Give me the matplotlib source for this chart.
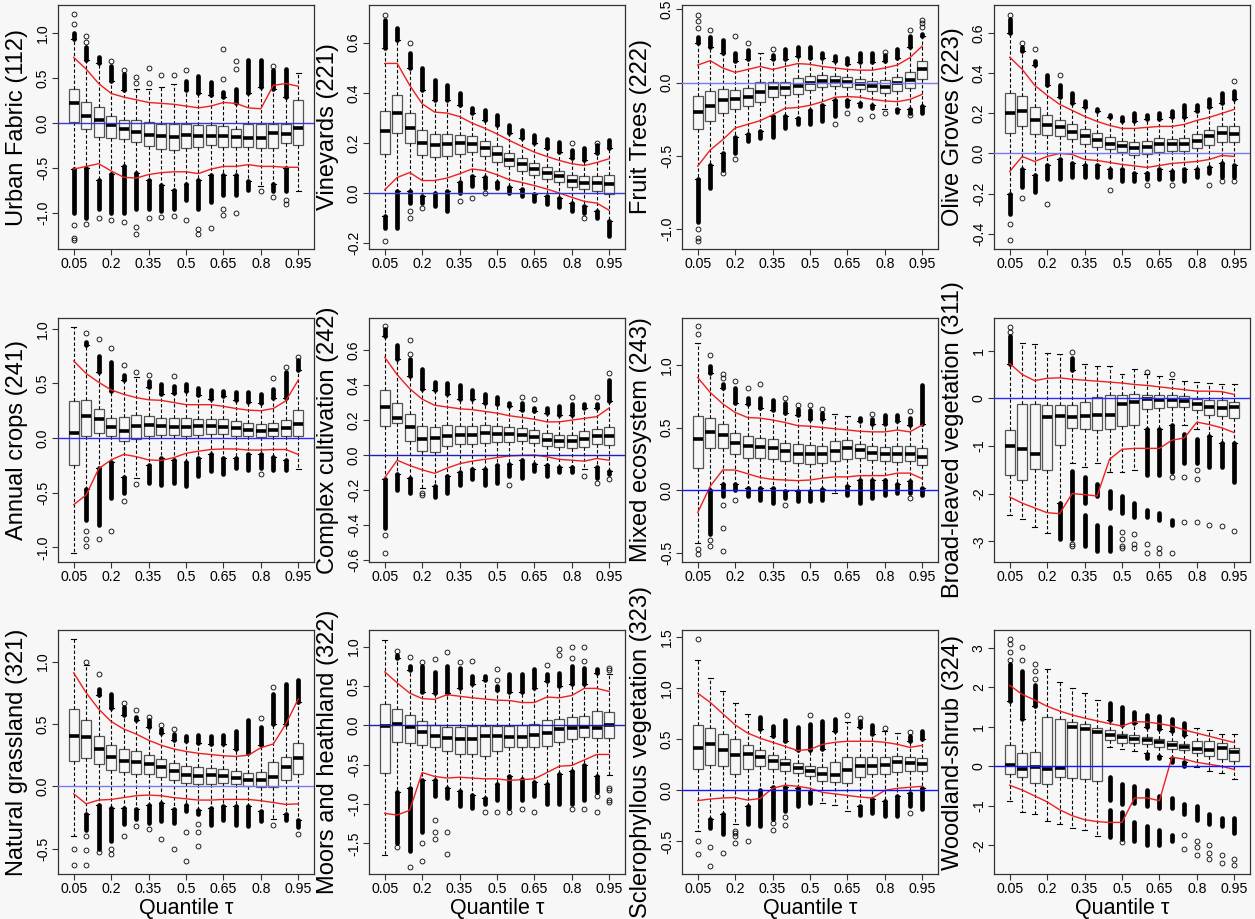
import matplotlib
matplotlib.use("Agg")
import matplotlib.pyplot as plt

plt.rcParams["font.family"] = ["Liberation Sans", "DejaVu Sans"]

BG = "#f7f7f7"

TAU = [0.05, 0.10, 0.15, 0.20, 0.25, 0.30, 0.35, 0.40, 0.45, 0.50,
       0.55, 0.60, 0.65, 0.70, 0.75, 0.80, 0.85, 0.90, 0.95]
TAU_SHOWN = ["0.05", "0.2", "0.35", "0.5", "0.65", "0.8", "0.95"]

# box rows: (lower whisker, q1, median, q3, upper whisker), one per tau
# bands: (box, lo, hi) = dense runs of outliers; pts: (box, [single outliers])

URBAN_BOX = [(-0.51, 0.01, 0.22, 0.38, 0.93), (-0.50, -0.06, 0.08, 0.23, 0.70),
             (-0.63, -0.15, 0.03, 0.18, 0.67), (-0.56, -0.17, -0.02, 0.08, 0.47),
             (-0.48, -0.18, -0.07, 0.04, 0.37), (-0.55, -0.21, -0.10, 0.03, 0.38),
             (-0.63, -0.25, -0.13, 0.01, 0.38), (-0.69, -0.29, -0.14, -0.01, 0.40),
             (-0.74, -0.30, -0.15, -0.01, 0.43), (-0.68, -0.28, -0.13, -0.01, 0.37),
             (-0.63, -0.26, -0.14, -0.02, 0.34), (-0.57, -0.24, -0.14, -0.02, 0.31),
             (-0.58, -0.26, -0.14, -0.03, 0.29), (-0.57, -0.26, -0.15, -0.06, 0.22),
             (-0.64, -0.26, -0.17, -0.01, 0.33), (-0.70, -0.28, -0.16, -0.01, 0.40),
             (-0.68, -0.28, -0.11, -0.01, 0.38), (-0.50, -0.22, -0.12, -0.01, 0.29),
             (-0.75, -0.24, -0.05, 0.26, 0.56)]
URBAN_BANDS = [(1, 0.93, 1.0), (2, 0.70, 0.85), (3, 0.67, 0.73), (4, 0.47, 0.63),
               (5, 0.37, 0.55), (10, 0.37, 0.47), (11, 0.34, 0.52), (12, 0.31, 0.46),
               (13, 0.29, 0.35), (14, 0.22, 0.38), (15, 0.33, 0.70), (16, 0.40, 0.70),
               (17, 0.38, 0.59), (18, 0.29, 0.60),
               (1, -1.0, -0.51), (2, -1.05, -0.50), (3, -0.95, -0.63), (4, -1.0, -0.56),
               (5, -1.0, -0.48), (6, -0.95, -0.55), (7, -0.95, -0.63), (8, -0.98, -0.69),
               (9, -0.95, -0.74), (10, -0.85, -0.68), (11, -0.95, -0.63), (12, -0.88, -0.57),
               (13, -0.80, -0.58), (14, -0.80, -0.57), (15, -0.74, -0.64), (17, -0.75, -0.68),
               (18, -0.75, -0.50)]
URBAN_PTS = [(1, [1.21, 1.10, -1.13, -1.27, -1.30]), (2, [0.90, 0.97, -1.12]), (3, [-1.05]),
             (4, [0.69, -1.07]), (5, [0.59, -1.10]), (6, [0.45, 0.51, -1.15, -1.23]),
             (7, [0.45, 0.61, -1.05]), (8, [0.53, -1.04]), (9, [0.54, -1.03]),
             (10, [0.59, -1.07]), (11, [-1.17, -1.23]), (12, [-1.16]),
             (13, [0.49, 0.82, -0.95, -1.02]), (14, [0.60, 0.69, -1.0]), (16, [-0.75]),
             (17, [0.64, -0.82]), (18, [-0.85, -0.90])]
URBAN_RED_HI = [0.73, 0.60, 0.44, 0.33, 0.29, 0.26, 0.23, 0.22, 0.21, 0.19,
                0.17, 0.19, 0.23, 0.22, 0.17, 0.16, 0.42, 0.44, 0.41]
URBAN_RED_LO = [-0.51, -0.48, -0.45, -0.53, -0.60, -0.61, -0.57, -0.55, -0.54, -0.54,
                -0.56, -0.51, -0.48, -0.48, -0.46, -0.48, -0.48, -0.49, -0.49]

VINE_BOX = [(-0.09, 0.157, 0.246, 0.328, 0.58), (0.01, 0.24, 0.32, 0.39, 0.61),
            (0.01, 0.20, 0.26, 0.32, 0.50), (-0.01, 0.15, 0.20, 0.25, 0.41),
            (0.0, 0.143, 0.19, 0.235, 0.37), (0.01, 0.149, 0.195, 0.235, 0.37),
            (0.045, 0.157, 0.198, 0.232, 0.35), (0.07, 0.163, 0.195, 0.226, 0.32),
            (0.065, 0.149, 0.178, 0.206, 0.29), (0.045, 0.124, 0.157, 0.186, 0.27),
            (0.025, 0.106, 0.133, 0.159, 0.24), (0.015, 0.09, 0.115, 0.139, 0.22),
            (-0.005, 0.073, 0.097, 0.12, 0.20), (-0.01, 0.057, 0.082, 0.104, 0.18),
            (-0.02, 0.044, 0.069, 0.09, 0.165), (-0.04, 0.024, 0.049, 0.074, 0.14),
            (-0.05, 0.017, 0.042, 0.07, 0.13), (-0.07, 0.01, 0.042, 0.07, 0.16),
            (-0.11, -0.003, 0.037, 0.073, 0.18)]
VINE_BANDS = [(1, 0.58, 0.69), (2, 0.61, 0.66), (3, 0.50, 0.56), (4, 0.41, 0.50),
              (5, 0.37, 0.45), (6, 0.37, 0.43), (7, 0.35, 0.40), (8, 0.32, 0.34),
              (9, 0.29, 0.33), (10, 0.27, 0.31), (11, 0.24, 0.27), (12, 0.22, 0.25),
              (13, 0.20, 0.23), (14, 0.18, 0.215), (15, 0.165, 0.205), (16, 0.14, 0.17),
              (17, 0.13, 0.18), (18, 0.16, 0.19), (19, 0.18, 0.21),
              (1, -0.14, -0.09), (2, -0.14, 0.01), (3, -0.04, 0.01), (4, -0.04, -0.01),
              (5, -0.05, 0.0), (6, -0.07, 0.01), (7, 0.0, 0.045), (8, 0.03, 0.07),
              (9, 0.02, 0.065), (10, 0.02, 0.045), (11, 0.0, 0.025), (12, -0.01, 0.015),
              (13, -0.03, -0.005), (14, -0.045, -0.01), (15, -0.055, -0.02),
              (16, -0.07, -0.04), (17, -0.08, -0.05), (18, -0.10, -0.07), (19, -0.17, -0.11)]
VINE_PTS = [(1, [0.71, -0.19]), (3, [0.60, -0.07, -0.10]), (4, [-0.06]), (7, [-0.03]),
            (8, [-0.02]), (9, [0.0]), (16, [0.20]), (17, [-0.10]), (18, [0.20])]
VINE_RED_HI = [0.517, 0.517, 0.43, 0.356, 0.323, 0.319, 0.305, 0.279, 0.259, 0.236,
               0.21, 0.186, 0.163, 0.146, 0.13, 0.117, 0.11, 0.122, 0.137]
VINE_RED_LO = [0.013, 0.062, 0.082, 0.05, 0.05, 0.06, 0.077, 0.096, 0.09, 0.073,
               0.053, 0.042, 0.03, 0.016, 0.0, -0.017, -0.033, -0.04, -0.069]

FRUIT_BOX = [(-0.66, -0.32, -0.20, -0.09, 0.27), (-0.56, -0.26, -0.16, -0.06, 0.24),
             (-0.48, -0.21, -0.12, -0.045, 0.20), (-0.37, -0.18, -0.115, -0.05, 0.15),
             (-0.35, -0.16, -0.10, -0.035, 0.16), (-0.33, -0.135, -0.065, 0.005, 0.20),
             (-0.23, -0.095, -0.04, 0.005, 0.16), (-0.23, -0.085, -0.04, 0.005, 0.16),
             (-0.24, -0.08, -0.02, 0.03, 0.18), (-0.19, -0.05, 0.0, 0.045, 0.17),
             (-0.15, -0.03, 0.014, 0.05, 0.17), (-0.12, -0.02, 0.014, 0.045, 0.15),
             (-0.12, -0.03, 0.002, 0.035, 0.13), (-0.14, -0.045, -0.011, 0.023, 0.14),
             (-0.15, -0.055, -0.023, 0.01, 0.14), (-0.18, -0.07, -0.027, 0.016, 0.15),
             (-0.18, -0.055, -0.005, 0.035, 0.17), (-0.18, -0.035, 0.02, 0.07, 0.24),
             (-0.16, 0.025, 0.093, 0.15, 0.32)]
FRUIT_BANDS = [(1, 0.27, 0.31), (2, 0.24, 0.31), (3, 0.20, 0.29), (4, 0.15, 0.20),
               (5, 0.16, 0.22), (7, 0.16, 0.19), (8, 0.16, 0.23), (9, 0.18, 0.24),
               (10, 0.17, 0.24), (11, 0.17, 0.20), (12, 0.15, 0.18), (13, 0.13, 0.17),
               (14, 0.14, 0.20), (15, 0.14, 0.20), (16, 0.15, 0.19), (17, 0.17, 0.23),
               (18, 0.24, 0.32), (19, 0.32, 0.33),
               (1, -0.95, -0.66), (2, -0.72, -0.56), (3, -0.60, -0.48), (4, -0.48, -0.37),
               (5, -0.40, -0.35), (6, -0.38, -0.33), (7, -0.37, -0.23), (8, -0.31, -0.23),
               (9, -0.28, -0.24), (10, -0.28, -0.19), (11, -0.26, -0.15), (12, -0.23, -0.12),
               (13, -0.16, -0.12), (14, -0.16, -0.14), (15, -0.17, -0.15), (17, -0.20, -0.18),
               (18, -0.21, -0.18), (19, -0.21, -0.16)]
FRUIT_PTS = [(1, [0.37, 0.42, 0.46, -1.0, -1.06, -1.08]), (2, [0.36]), (3, [-0.62]),
             (4, [0.32, -0.52]), (5, [0.27]), (7, [0.23]), (12, [-0.28]), (13, [-0.21]),
             (14, [-0.25]), (15, [-0.23]), (16, [0.21, -0.21]), (18, [0.36, -0.22]),
             (19, [0.38, 0.41, 0.43])]
FRUIT_RED_HI = [0.12, 0.15, 0.10, 0.07, 0.09, 0.11, 0.09, 0.11, 0.13, 0.125,
                0.11, 0.10, 0.09, 0.085, 0.085, 0.10, 0.12, 0.17, 0.25]
FRUIT_RED_LO = [-0.57, -0.46, -0.39, -0.31, -0.285, -0.26, -0.22, -0.175, -0.17, -0.155,
                -0.13, -0.10, -0.095, -0.10, -0.115, -0.125, -0.13, -0.115, -0.08]

OLIVE_BOX = [(-0.20, 0.101, 0.204, 0.304, 0.60), (-0.08, 0.138, 0.213, 0.286, 0.51),
             (-0.11, 0.096, 0.165, 0.234, 0.44), (-0.06, 0.09, 0.141, 0.191, 0.34),
             (-0.03, 0.085, 0.13, 0.166, 0.28), (-0.05, 0.07, 0.108, 0.145, 0.25),
             (-0.06, 0.047, 0.085, 0.121, 0.23), (-0.06, 0.033, 0.068, 0.101, 0.21),
             (-0.08, 0.02, 0.048, 0.08, 0.18), (-0.08, 0.005, 0.035, 0.06, 0.16),
             (-0.10, -0.008, 0.025, 0.055, 0.16), (-0.10, -0.002, 0.032, 0.063, 0.17),
             (-0.08, 0.008, 0.045, 0.075, 0.17), (-0.09, 0.012, 0.045, 0.071, 0.18),
             (-0.08, 0.012, 0.045, 0.076, 0.18), (-0.08, 0.028, 0.061, 0.096, 0.21),
             (-0.07, 0.042, 0.085, 0.118, 0.23), (-0.05, 0.058, 0.101, 0.136, 0.25),
             (-0.06, 0.055, 0.095, 0.136, 0.27)]
OLIVE_BANDS = [(1, 0.60, 0.67), (2, 0.51, 0.53), (3, 0.44, 0.46), (4, 0.34, 0.39),
               (5, 0.28, 0.34), (6, 0.25, 0.30), (7, 0.23, 0.26), (8, 0.21, 0.22),
               (9, 0.18, 0.19), (10, 0.16, 0.18), (11, 0.16, 0.20), (12, 0.17, 0.19),
               (13, 0.17, 0.20), (14, 0.18, 0.21), (15, 0.18, 0.24), (16, 0.21, 0.24),
               (17, 0.23, 0.27), (18, 0.25, 0.30), (19, 0.27, 0.31),
               (1, -0.30, -0.20), (2, -0.17, -0.08), (3, -0.19, -0.11), (4, -0.13, -0.06),
               (5, -0.13, -0.03), (6, -0.12, -0.05), (7, -0.12, -0.06), (8, -0.12, -0.06),
               (9, -0.12, -0.08), (10, -0.14, -0.08), (11, -0.14, -0.10), (12, -0.13, -0.10),
               (13, -0.13, -0.08), (14, -0.13, -0.09), (15, -0.14, -0.08), (16, -0.12, -0.08),
               (17, -0.10, -0.07), (18, -0.12, -0.05), (19, -0.12, -0.06)]
OLIVE_PTS = [(1, [0.69, -0.35, -0.43]), (2, [0.55, -0.22]), (3, [0.52]), (4, [-0.25]),
             (5, [0.39]), (9, [-0.18]), (12, [-0.16]), (14, [-0.16]), (17, [-0.16]),
             (18, [-0.14]), (19, [0.36, -0.14])]
OLIVE_RED_HI = [0.48, 0.42, 0.34, 0.29, 0.245, 0.215, 0.185, 0.16, 0.14, 0.125,
                0.125, 0.13, 0.135, 0.135, 0.145, 0.165, 0.18, 0.20, 0.22]
OLIVE_RED_LO = [-0.09, -0.015, -0.04, -0.015, 0.0, -0.005, -0.03, -0.035, -0.045, -0.055,
                -0.062, -0.07, -0.06, -0.05, -0.045, -0.04, -0.03, -0.01, -0.015]

ANNUAL_BOX = [(-1.05, -0.25, 0.043, 0.34, 1.02), (-0.47, 0.015, 0.20, 0.35, 0.85),
              (-0.27, 0.05, 0.175, 0.27, 0.60), (-0.22, 0.015, 0.10, 0.18, 0.43),
              (-0.36, -0.03, 0.064, 0.19, 0.53), (-0.37, -0.012, 0.113, 0.21, 0.56),
              (-0.25, 0.02, 0.122, 0.20, 0.47), (-0.18, 0.03, 0.11, 0.185, 0.40),
              (-0.20, 0.025, 0.10, 0.185, 0.41), (-0.22, 0.02, 0.10, 0.18, 0.43),
              (-0.18, 0.028, 0.11, 0.175, 0.39), (-0.15, 0.037, 0.107, 0.17, 0.36),
              (-0.18, 0.034, 0.10, 0.174, 0.38), (-0.18, 0.021, 0.091, 0.159, 0.35),
              (-0.15, 0.015, 0.076, 0.137, 0.33), (-0.15, 0.009, 0.067, 0.128, 0.32),
              (-0.17, 0.015, 0.076, 0.137, 0.37), (-0.20, 0.015, 0.088, 0.165, 0.37),
              (-0.28, 0.015, 0.128, 0.26, 0.62)]
ANNUAL_BANDS = [(2, 0.85, 0.88), (3, 0.60, 0.75), (4, 0.43, 0.70), (5, 0.53, 0.58),
                (7, 0.47, 0.52), (8, 0.40, 0.49), (9, 0.41, 0.48), (10, 0.43, 0.49),
                (11, 0.39, 0.46), (12, 0.36, 0.44), (13, 0.38, 0.43), (14, 0.35, 0.42),
                (15, 0.33, 0.42), (16, 0.32, 0.40), (17, 0.37, 0.45), (18, 0.37, 0.60),
                (19, 0.62, 0.71),
                (2, -0.75, -0.47), (3, -0.80, -0.27), (4, -0.55, -0.22), (5, -0.50, -0.36),
                (7, -0.41, -0.25), (8, -0.43, -0.18), (9, -0.41, -0.20), (10, -0.44, -0.22),
                (11, -0.35, -0.18), (12, -0.30, -0.15), (13, -0.33, -0.18), (14, -0.27, -0.18),
                (15, -0.29, -0.15), (16, -0.27, -0.15), (17, -0.29, -0.17), (18, -0.29, -0.20)]
ANNUAL_PTS = [(2, [0.96, -0.85, -0.92, -0.99]), (3, [0.91, -0.92]), (4, [0.82, -0.85]),
              (5, [0.67, -0.58]), (6, [0.60, -0.42]), (7, [0.58]), (9, [0.57]),
              (16, [-0.33]), (17, [0.55]), (18, [0.65]), (19, [0.74])]
ANNUAL_RED_HI = [0.705, 0.59, 0.51, 0.44, 0.40, 0.37, 0.35, 0.345, 0.325, 0.305,
                 0.305, 0.305, 0.29, 0.27, 0.255, 0.25, 0.27, 0.34, 0.53]
ANNUAL_RED_LO = [-0.61, -0.52, -0.28, -0.20, -0.15, -0.17, -0.20, -0.205, -0.18, -0.14,
                 -0.12, -0.105, -0.10, -0.10, -0.11, -0.11, -0.105, -0.105, -0.15]

COMPLEX_BOX = [(-0.14, 0.164, 0.277, 0.373, 0.68), (-0.11, 0.183, 0.214, 0.296, 0.55),
               (-0.13, 0.082, 0.159, 0.233, 0.45), (-0.19, 0.023, 0.092, 0.166, 0.38),
               (-0.18, 0.019, 0.099, 0.16, 0.37), (-0.12, 0.052, 0.109, 0.17, 0.35),
               (-0.10, 0.061, 0.115, 0.166, 0.32), (-0.08, 0.061, 0.113, 0.166, 0.32),
               (-0.08, 0.069, 0.126, 0.172, 0.30), (-0.06, 0.075, 0.12, 0.164, 0.29),
               (-0.05, 0.075, 0.12, 0.16, 0.28), (-0.03, 0.08, 0.117, 0.153, 0.26),
               (-0.05, 0.067, 0.105, 0.141, 0.25), (-0.06, 0.052, 0.088, 0.124, 0.24),
               (-0.07, 0.046, 0.08, 0.115, 0.23), (-0.07, 0.042, 0.078, 0.115, 0.23),
               (-0.08, 0.048, 0.092, 0.136, 0.27), (-0.07, 0.065, 0.111, 0.151, 0.27),
               (-0.09, 0.057, 0.109, 0.16, 0.31)]
COMPLEX_BANDS = [(1, 0.68, 0.72), (2, 0.55, 0.63), (3, 0.45, 0.55), (4, 0.38, 0.49),
                 (5, 0.37, 0.42), (6, 0.35, 0.41), (7, 0.32, 0.40), (8, 0.32, 0.37),
                 (9, 0.30, 0.35), (10, 0.29, 0.33), (11, 0.28, 0.30), (12, 0.26, 0.30),
                 (13, 0.25, 0.27), (14, 0.24, 0.27), (15, 0.23, 0.28), (16, 0.23, 0.29),
                 (17, 0.27, 0.29), (18, 0.27, 0.29), (19, 0.31, 0.43),
                 (1, -0.42, -0.14), (2, -0.20, -0.11), (3, -0.22, -0.13), (5, -0.24, -0.18),
                 (6, -0.22, -0.12), (7, -0.17, -0.10), (8, -0.14, -0.08), (9, -0.17, -0.08),
                 (10, -0.16, -0.06), (11, -0.12, -0.05), (12, -0.13, -0.03), (13, -0.09, -0.05),
                 (14, -0.12, -0.06), (15, -0.10, -0.07), (16, -0.10, -0.07), (18, -0.13, -0.07),
                 (19, -0.11, -0.09)]
COMPLEX_PTS = [(1, [0.74, -0.46, -0.56]), (3, [0.58, 0.66]), (4, [-0.22, -0.23]),
               (11, [-0.17]), (12, [0.33]), (13, [0.32]), (16, [0.33]), (17, [-0.12]),
               (18, [0.33, -0.16]), (19, [0.47, -0.14])]
COMPLEX_RED_HI = [0.56, 0.46, 0.38, 0.32, 0.285, 0.275, 0.265, 0.26, 0.25, 0.24,
                  0.225, 0.215, 0.205, 0.19, 0.19, 0.20, 0.21, 0.22, 0.27]
COMPLEX_RED_LO = [-0.13, -0.03, -0.06, -0.085, -0.105, -0.075, -0.05, -0.035, -0.025, -0.015,
                  -0.005, -0.002, 0.0, -0.01, -0.025, -0.03, -0.035, -0.02, -0.03]

MIXED_BOX = [(-0.42, 0.18, 0.405, 0.59, 1.18), (0.0, 0.34, 0.465, 0.58, 0.94),
             (0.05, 0.335, 0.437, 0.53, 0.82), (0.05, 0.29, 0.373, 0.46, 0.70),
             (0.02, 0.26, 0.35, 0.43, 0.69), (0.02, 0.26, 0.344, 0.42, 0.66),
             (0.02, 0.248, 0.336, 0.41, 0.64), (-0.01, 0.23, 0.31, 0.38, 0.62),
             (-0.01, 0.215, 0.29, 0.37, 0.60), (-0.01, 0.21, 0.288, 0.357, 0.57),
             (0.01, 0.215, 0.29, 0.355, 0.57), (-0.02, 0.23, 0.31, 0.39, 0.61),
             (0.03, 0.248, 0.339, 0.397, 0.59), (0.08, 0.256, 0.32, 0.37, 0.55),
             (0.08, 0.237, 0.296, 0.35, 0.53), (0.08, 0.23, 0.285, 0.345, 0.53),
             (0.05, 0.227, 0.29, 0.352, 0.55), (0.07, 0.235, 0.29, 0.352, 0.52),
             (0.02, 0.20, 0.267, 0.336, 0.53)]
MIXED_BANDS = [(2, 0.94, 0.99), (3, 0.82, 0.85), (4, 0.70, 0.82), (5, 0.69, 0.74),
               (6, 0.66, 0.74), (7, 0.64, 0.72), (8, 0.62, 0.70), (9, 0.60, 0.65),
               (10, 0.57, 0.64), (11, 0.57, 0.62), (14, 0.55, 0.58), (15, 0.53, 0.57),
               (16, 0.53, 0.60), (17, 0.55, 0.60), (18, 0.52, 0.58), (19, 0.53, 0.84),
               (2, -0.35, 0.0), (3, -0.05, 0.05), (4, 0.0, 0.05), (5, -0.05, 0.02),
               (6, -0.08, 0.02), (7, -0.10, 0.02), (8, -0.06, -0.01), (9, -0.09, -0.01),
               (10, -0.09, -0.01), (11, -0.08, 0.01), (13, -0.04, 0.03), (14, -0.10, 0.08),
               (15, -0.06, 0.08), (16, -0.04, 0.08), (17, -0.02, 0.05), (18, -0.02, 0.07),
               (19, -0.04, 0.02)]
MIXED_PTS = [(1, [1.25, 1.31, -0.47, -0.51]), (2, [1.08, -0.40, -0.45]),
             (3, [0.90, 0.93, -0.12, -0.30, -0.49]), (4, [0.87, -0.08]), (5, [0.82]),
             (6, [0.85]), (8, [0.74, -0.12]), (9, [0.68]), (10, [0.68]), (11, [0.65]),
             (15, [0.61]), (18, [0.63, -0.06])]
MIXED_RED_HI = [0.90, 0.78, 0.69, 0.62, 0.58, 0.575, 0.56, 0.54, 0.515, 0.51,
                0.50, 0.49, 0.48, 0.47, 0.465, 0.465, 0.48, 0.465, 0.52]
MIXED_RED_LO = [-0.18, 0.03, 0.16, 0.16, 0.13, 0.10, 0.085, 0.08, 0.075, 0.08,
                0.095, 0.105, 0.105, 0.115, 0.115, 0.115, 0.135, 0.135, 0.09]

BROAD_BOX = [(-2.45, -1.60, -0.99, -0.66, 0.73), (-2.53, -1.72, -1.06, -0.12, 1.17),
             (-2.70, -1.48, -1.16, -0.12, 1.13), (-2.83, -1.51, -0.39, -0.15, 0.96),
             (-2.20, -0.97, -0.37, -0.15, 0.92), (-1.35, -0.62, -0.39, -0.13, 0.60),
             (-1.45, -0.64, -0.38, -0.07, 0.72), (-1.35, -0.66, -0.36, 0.03, 0.67),
             (-1.55, -0.64, -0.34, 0.06, 0.67), (-1.55, -0.58, -0.11, 0.07, 0.50),
             (-1.50, -0.55, -0.07, 0.09, 0.62), (-0.65, -0.22, -0.015, 0.08, 0.52),
             (-0.65, -0.21, -0.03, 0.07, 0.47), (-0.55, -0.18, -0.03, 0.07, 0.40),
             (-0.55, -0.18, -0.05, 0.04, 0.36), (-0.65, -0.25, -0.11, -0.01, 0.34),
             (-0.80, -0.34, -0.18, -0.03, 0.33), (-0.93, -0.38, -0.20, -0.03, 0.31),
             (-0.93, -0.41, -0.18, -0.08, 0.31)]
BROAD_BANDS = [(1, 0.73, 1.30), (6, 0.60, 0.85),
               (5, -2.95, -2.20), (6, -2.95, -1.52), (7, -2.20, -1.65), (7, -3.10, -2.45),
               (8, -2.05, -1.80), (8, -3.20, -2.65), (9, -2.30, -1.95), (9, -3.20, -2.70),
               (10, -2.40, -2.05), (11, -2.50, -2.20), (12, -1.60, -0.65), (12, -2.50, -2.35),
               (13, -1.60, -0.65), (13, -2.55, -2.40), (14, -1.55, -0.55), (14, -2.65, -2.55),
               (15, -1.35, -0.75), (16, -1.35, -0.85), (17, -1.45, -0.80), (18, -1.45, -0.93),
               (19, -1.75, -0.93)]
BROAD_PTS = [(1, [1.40, 1.50]), (6, [0.98, -3.05, -3.10]), (10, [-2.80, -2.95, -3.10, -3.15]),
             (11, [-2.85, -3.05, -3.15]), (12, [0.55, -3.05, -3.25]), (13, [-3.15, -3.25]),
             (14, [0.50, -1.65, -3.25]), (15, [-1.65, -2.60]), (16, [-1.50, -1.70, -2.60]),
             (17, [-2.65]), (18, [-2.67]), (19, [-2.78])]
BROAD_RED_HI = [0.73, 0.50, 0.37, 0.42, 0.43, 0.40, 0.38, 0.36, 0.34, 0.32,
                0.29, 0.27, 0.24, 0.21, 0.18, 0.15, 0.15, 0.14, 0.08]
BROAD_RED_LO = [-2.07, -2.20, -2.30, -2.40, -2.42, -2.00, -2.02, -2.05, -1.28, -1.07,
                -1.05, -1.05, -1.05, -0.88, -0.83, -0.50, -0.55, -0.62, -0.72]

GRASS_BOX = [(-0.40, 0.205, 0.406, 0.62, 1.18), (-0.22, 0.225, 0.396, 0.53, 0.97),
             (-0.15, 0.18, 0.30, 0.405, 0.73), (-0.17, 0.13, 0.233, 0.33, 0.63),
             (-0.17, 0.112, 0.20, 0.30, 0.57), (-0.18, 0.096, 0.193, 0.283, 0.53),
             (-0.15, 0.096, 0.18, 0.253, 0.48), (-0.13, 0.078, 0.152, 0.217, 0.43),
             (-0.18, 0.051, 0.126, 0.185, 0.37), (-0.15, 0.024, 0.094, 0.16, 0.36),
             (-0.19, 0.019, 0.08, 0.155, 0.35), (-0.17, 0.019, 0.091, 0.15, 0.34),
             (-0.16, 0.024, 0.086, 0.139, 0.34), (-0.16, 0.016, 0.064, 0.126, 0.30),
             (-0.16, 0.0, 0.05, 0.107, 0.27), (-0.20, -0.008, 0.048, 0.115, 0.33),
             (-0.26, -0.008, 0.078, 0.193, 0.50), (-0.22, 0.048, 0.158, 0.235, 0.50),
             (-0.27, 0.099, 0.227, 0.345, 0.68)]
GRASS_BANDS = [(3, 0.73, 0.78), (4, 0.63, 0.74), (5, 0.57, 0.64), (6, 0.53, 0.56),
               (7, 0.48, 0.53), (8, 0.43, 0.46), (9, 0.37, 0.42), (10, 0.36, 0.40),
               (11, 0.35, 0.41), (12, 0.34, 0.40), (13, 0.34, 0.41), (14, 0.30, 0.44),
               (15, 0.27, 0.53), (16, 0.33, 0.48), (17, 0.50, 0.74), (18, 0.50, 0.82),
               (19, 0.68, 0.85),
               (2, -0.35, -0.22), (3, -0.50, -0.15), (4, -0.44, -0.17), (5, -0.30, -0.17),
               (6, -0.26, -0.18), (7, -0.29, -0.15), (8, -0.28, -0.13), (9, -0.29, -0.18),
               (10, -0.20, -0.15), (11, -0.22, -0.19), (12, -0.31, -0.17), (13, -0.27, -0.16),
               (14, -0.31, -0.16), (15, -0.32, -0.16), (16, -0.28, -0.20), (18, -0.27, -0.22),
               (19, -0.33, -0.27)]
GRASS_PTS = [(1, [-0.50, -0.63]), (2, [1.00, -0.40, -0.51, -0.63]), (3, [0.90, -0.53]),
             (4, [-0.50, -0.54]), (5, [0.67, -0.40]), (6, [0.61, -0.32]), (7, [0.56, -0.34]),
             (8, [0.49, -0.42]), (9, [0.46, -0.50]), (10, [-0.37, -0.60]),
             (11, [-0.30, -0.37, -0.48]), (16, [0.55]), (17, [0.80, -0.31]), (19, [-0.38])]
GRASS_RED_HI = [0.91, 0.75, 0.62, 0.52, 0.46, 0.42, 0.37, 0.33, 0.30, 0.28,
                0.265, 0.255, 0.245, 0.24, 0.25, 0.31, 0.34, 0.50, 0.70]
GRASS_RED_LO = [-0.06, -0.14, -0.11, -0.105, -0.09, -0.075, -0.07, -0.075, -0.09, -0.10,
                -0.11, -0.11, -0.105, -0.105, -0.105, -0.115, -0.13, -0.145, -0.14]

MOORS_BOX = [(-1.65, -0.61, -0.01, 0.27, 1.09), (-0.85, -0.21, 0.02, 0.21, 0.85),
             (-0.80, -0.23, -0.02, 0.135, 0.70), (-0.70, -0.25, -0.085, 0.055, 0.43),
             (-0.70, -0.28, -0.14, 0.0, 0.41), (-0.80, -0.32, -0.16, -0.025, 0.41),
             (-0.84, -0.36, -0.175, -0.025, 0.47), (-0.88, -0.37, -0.18, -0.01, 0.52),
             (-0.92, -0.39, -0.13, -0.01, 0.57), (-0.75, -0.32, -0.13, -0.01, 0.45),
             (-0.65, -0.27, -0.15, -0.01, 0.42), (-0.68, -0.275, -0.15, 0.01, 0.42),
             (-0.72, -0.28, -0.12, 0.02, 0.47), (-0.75, -0.26, -0.10, 0.07, 0.56),
             (-0.62, -0.21, -0.045, 0.08, 0.50), (-0.58, -0.18, -0.04, 0.10, 0.52),
             (-0.50, -0.145, -0.025, 0.12, 0.52), (-0.65, -0.155, -0.03, 0.18, 0.67),
             (-0.63, -0.165, 0.005, 0.165, 0.65)]
MOORS_BANDS = [(2, 0.85, 0.90), (3, 0.70, 0.75), (4, 0.43, 0.75), (5, 0.41, 0.68),
               (6, 0.41, 0.75), (7, 0.47, 0.73), (8, 0.52, 0.63), (9, 0.57, 0.63),
               (10, 0.45, 0.50), (11, 0.42, 0.65), (12, 0.42, 0.65), (13, 0.47, 0.72),
               (14, 0.56, 0.65), (15, 0.50, 0.67), (16, 0.52, 0.75), (17, 0.52, 0.73),
               (18, 0.67, 0.72),
               (2, -1.50, -0.85), (3, -1.60, -0.80), (4, -1.35, -0.70), (5, -0.90, -0.70),
               (6, -0.93, -0.80), (7, -1.03, -0.84), (8, -1.05, -0.88), (9, -1.00, -0.92),
               (10, -0.95, -0.75), (11, -1.05, -0.65), (12, -0.95, -0.68), (13, -0.90, -0.72),
               (14, -1.00, -0.75), (15, -1.00, -0.62), (16, -1.00, -0.58), (17, -0.95, -0.50),
               (18, -0.85, -0.65)]
MOORS_PTS = [(2, [0.95, -1.55]), (3, [0.87, -1.80]), (4, [0.80, -1.50, -1.72]),
             (5, [0.84, -1.20, -1.35, -1.45]), (6, [0.93, -1.35, -1.64]), (7, [0.80]),
             (8, [0.82]), (9, [-1.10]), (10, [0.57, 0.71, -1.10]), (11, [-1.10]),
             (12, [-1.07]), (13, [-1.10]), (14, [0.77]), (15, [0.90, 0.97]),
             (16, [0.85, 0.99, -1.07]), (17, [0.82, 0.99, -1.07]), (18, [-0.90, -1.10]),
             (19, [0.70, 0.73, -0.80, -0.82, -0.95, -0.98])]
MOORS_RED_HI = [0.68, 0.54, 0.41, 0.34, 0.33, 0.39, 0.37, 0.35, 0.335, 0.32,
                0.315, 0.29, 0.29, 0.36, 0.35, 0.38, 0.47, 0.47, 0.43]
MOORS_RED_LO = [-1.12, -1.14, -1.08, -0.60, -0.65, -0.67, -0.66, -0.67, -0.68, -0.68,
                -0.70, -0.69, -0.68, -0.60, -0.52, -0.51, -0.44, -0.37, -0.37]

SCLERO_BOX = [(-0.40, 0.21, 0.414, 0.64, 1.27), (-0.28, 0.25, 0.456, 0.61, 1.10),
              (-0.23, 0.238, 0.395, 0.55, 0.97), (-0.33, 0.16, 0.346, 0.50, 0.85),
              (-0.15, 0.205, 0.36, 0.44, 0.75), (0.0, 0.238, 0.326, 0.39, 0.60),
              (0.03, 0.212, 0.287, 0.346, 0.53), (0.03, 0.189, 0.258, 0.303, 0.48),
              (0.02, 0.173, 0.222, 0.27, 0.39), (-0.02, 0.14, 0.186, 0.238, 0.39),
              (-0.12, 0.095, 0.157, 0.225, 0.40), (-0.14, 0.078, 0.147, 0.277, 0.58),
              (-0.20, 0.072, 0.20, 0.323, 0.67), (-0.15, 0.127, 0.241, 0.323, 0.62),
              (-0.08, 0.156, 0.241, 0.323, 0.55), (-0.10, 0.156, 0.245, 0.33, 0.58),
              (-0.06, 0.18, 0.274, 0.34, 0.56), (-0.03, 0.192, 0.27, 0.323, 0.48),
              (0.02, 0.192, 0.254, 0.316, 0.50)]
SCLERO_BANDS = [(6, 0.60, 0.72), (7, 0.53, 0.63), (8, 0.48, 0.69), (9, 0.39, 0.62),
                (10, 0.39, 0.65), (11, 0.40, 0.68), (12, 0.58, 0.70), (14, 0.62, 0.68),
                (15, 0.55, 0.64), (18, 0.48, 0.53), (19, 0.50, 0.58),
                (2, -0.37, -0.28), (3, -0.43, -0.23), (5, -0.33, -0.15), (6, -0.35, 0.0),
                (7, -0.28, 0.03), (8, -0.20, 0.03), (9, -0.15, 0.02), (10, -0.12, -0.02),
                (14, -0.24, -0.15), (15, -0.22, -0.08), (16, -0.25, -0.10), (17, -0.25, -0.06),
                (18, -0.15, -0.03), (19, -0.18, 0.02)]
SCLERO_PTS = [(1, [1.48, -0.50, -0.62]), (2, [-0.55, -0.74]), (3, [-0.61]),
              (4, [-0.40, -0.42, -0.45, -0.51]), (5, [-0.50]), (7, [-0.32, -0.39]),
              (8, [-0.26, -0.34]), (10, [0.74]), (13, [0.74]), (14, [0.71]), (16, [0.61]),
              (18, [0.57, -0.22])]
SCLERO_RED_HI = [0.95, 0.86, 0.75, 0.64, 0.56, 0.51, 0.47, 0.43, 0.39, 0.40,
                 0.45, 0.47, 0.48, 0.48, 0.48, 0.47, 0.45, 0.42, 0.44]
SCLERO_RED_LO = [-0.10, -0.085, -0.075, -0.07, -0.095, -0.08, 0.02, 0.05, 0.04, 0.02,
                 -0.02, -0.035, -0.05, -0.065, -0.075, 0.0, 0.02, 0.03, 0.04]

WOOD_BOX = [(-0.88, -0.19, 0.04, 0.54, 1.65), (-1.15, -0.28, -0.06, 0.33, 1.20),
            (-1.21, -0.41, -0.01, 0.36, 1.52), (-1.39, -0.44, -0.06, 1.24, 2.46),
            (-1.45, -0.28, -0.04, 1.19, 2.13), (-1.55, -0.30, 0.99, 1.12, 1.98),
            (-1.62, -0.31, 0.95, 1.06, 1.86), (-1.77, -0.37, 0.88, 0.97, 1.68),
            (0.50, 0.67, 0.80, 0.92, 1.18), (0.45, 0.60, 0.73, 0.83, 1.05),
            (0.38, 0.59, 0.70, 0.80, 1.10), (0.33, 0.56, 0.67, 0.75, 1.00),
            (0.25, 0.50, 0.61, 0.69, 0.95), (0.20, 0.45, 0.55, 0.63, 0.90),
            (0.10, 0.40, 0.50, 0.57, 0.78), (-0.02, 0.34, 0.43, 0.65, 0.97),
            (-0.13, 0.27, 0.41, 0.63, 0.93), (-0.17, 0.18, 0.47, 0.58, 0.83),
            (-0.33, 0.13, 0.35, 0.46, 0.82)]
WOOD_BANDS = [(1, 1.65, 2.60), (2, 1.20, 2.40), (3, 1.52, 2.05), (9, 1.18, 1.60),
              (10, 1.05, 1.50), (11, 1.10, 1.37), (12, 1.00, 1.30), (13, 0.95, 1.28),
              (14, 0.90, 1.20), (15, 0.78, 1.10),
              (9, -0.85, -0.28), (9, -1.80, -1.10), (10, -0.95, -0.45), (10, -1.85, -1.15),
              (11, -0.92, -0.50), (11, -1.90, -1.40), (12, 0.20, 0.30), (12, -1.00, -0.60),
              (12, -2.00, -1.50), (13, 0.20, 0.25), (13, -1.05, -0.75), (13, -2.00, -1.60),
              (14, 0.10, 0.20), (14, -1.05, -0.80), (14, -1.90, -1.75), (15, 0.0, 0.10),
              (15, -1.20, -0.95), (16, -1.35, -1.00), (17, -1.45, -1.20), (18, -1.50, -1.30),
              (19, -1.70, -1.30)]
WOOD_PTS = [(1, [2.70, 2.90, 3.10, 3.22]), (2, [2.70, 3.03]), (3, [2.20, 2.40, 2.60]),
            (10, [-1.92]), (15, [-1.75, -2.10]), (16, [-1.90, -2.05, -2.25]),
            (17, [-2.00, -2.20, -2.35]), (18, [-2.25, -2.45]), (19, [-2.35, -2.50])]
WOOD_RED_HI = [2.05, 1.82, 1.68, 1.52, 1.40, 1.30, 1.22, 1.15, 1.08, 1.02,
               1.13, 1.12, 1.08, 1.02, 0.92, 0.84, 0.76, 0.68, 0.60]
WOOD_RED_LO = [-0.48, -0.60, -0.75, -0.90, -1.10, -1.25, -1.35, -1.40, -1.42, -1.42,
               -0.80, -0.80, -0.87, 0.23, 0.18, 0.10, 0.05, 0.0, -0.08]

PANELS = [
    ("Urban Fabric (112)", URBAN_BOX, URBAN_BANDS, URBAN_PTS, URBAN_RED_HI, URBAN_RED_LO,
     [-1.0, -0.5, 0.0, 0.5, 1.0], (-1.397, 1.312), "#3a3ad0"),
    ("Vineyards (221)", VINE_BOX, VINE_BANDS, VINE_PTS, VINE_RED_HI, VINE_RED_LO,
     [-0.2, 0.0, 0.2, 0.4, 0.6], (-0.223, 0.750), "#3a3ad0"),
    ("Fruit Trees (222)", FRUIT_BOX, FRUIT_BANDS, FRUIT_PTS, FRUIT_RED_HI, FRUIT_RED_LO,
     [-1.0, -0.5, 0.0, 0.5], (-1.136, 0.530), "#7a7af0"),
    ("Olive Groves (223)", OLIVE_BOX, OLIVE_BANDS, OLIVE_PTS, OLIVE_RED_HI, OLIVE_RED_LO,
     [-0.4, -0.2, 0.0, 0.2, 0.4, 0.6], (-0.477, 0.741), "#7a7af0"),
    ("Annual crops (241)", ANNUAL_BOX, ANNUAL_BANDS, ANNUAL_PTS, ANNUAL_RED_HI, ANNUAL_RED_LO,
     [-1.0, -0.5, 0.0, 0.5, 1.0], (-1.134, 1.098), "#2a2aff"),
    ("Complex cultivation (242)", COMPLEX_BOX, COMPLEX_BANDS, COMPLEX_PTS, COMPLEX_RED_HI,
     COMPLEX_RED_LO, [-0.6, -0.4, -0.2, 0.0, 0.2, 0.4, 0.6], (-0.613, 0.785), "#2020b8"),
    ("Mixed ecosystem (243)", MIXED_BOX, MIXED_BANDS, MIXED_PTS, MIXED_RED_HI, MIXED_RED_LO,
     [-0.5, 0.0, 0.5, 1.0], (-0.576, 1.376), "#1515ff"),
    ("Broad-leaved vegetation (311)", BROAD_BOX, BROAD_BANDS, BROAD_PTS, BROAD_RED_HI,
     BROAD_RED_LO, [-3, -2, -1, 0, 1], (-3.434, 1.685), "#2a2aff"),
    ("Natural grassland (321)", GRASS_BOX, GRASS_BANDS, GRASS_PTS, GRASS_RED_HI, GRASS_RED_LO,
     [-0.5, 0.0, 0.5, 1.0], (-0.703, 1.254), "#7a7af0"),
    ("Moors and heathland (322)", MOORS_BOX, MOORS_BANDS, MOORS_PTS, MOORS_RED_HI, MOORS_RED_LO,
     [-1.5, -1.0, -0.5, 0.0, 0.5, 1.0], (-1.890, 1.212), "#2020b8"),
    ("Sclerophyllous vegetation (323)", SCLERO_BOX, SCLERO_BANDS, SCLERO_PTS, SCLERO_RED_HI,
     SCLERO_RED_LO, [-0.5, 0.0, 0.5, 1.0, 1.5], (-0.818, 1.568), "#1515ff"),
    ("Woodland-shrub (324)", WOOD_BOX, WOOD_BANDS, WOOD_PTS, WOOD_RED_HI, WOOD_RED_LO,
     [-2, -1, 0, 1, 2, 3], (-2.726, 3.450), "#1515ff"),
]

W, H = 1255, 919
COL_X = [58, 369, 682, 994]
ROW_Y = [5, 318, 630]
AX_W, AX_H = 256, 244


def tick_text(v):
    if isinstance(v, int):
        return str(v)
    return f"{v:.1f}"


def draw_panel(ax, title, box, bands, pts, red_hi, red_lo, yticks, ylim, zero_col, bottom):
    pos = list(range(1, len(TAU) + 1))
    stats = [dict(whislo=b[0], q1=b[1], med=b[2], q3=b[3], whishi=b[4], fliers=[])
             for b in box]
    ax.bxp(stats, positions=pos, widths=0.8, capwidths=0.4, patch_artist=True,
           showfliers=False, manage_ticks=False,
           boxprops=dict(facecolor=BG, edgecolor="#555555", linewidth=0.9),
           whiskerprops=dict(color="black", linewidth=0.8, linestyle=(0, (3, 2))),
           capprops=dict(color="black", linewidth=0.8),
           medianprops=dict(color="black", linewidth=2.6, solid_capstyle="butt"))

    ax.vlines([b[0] for b in bands], [b[1] for b in bands], [b[2] for b in bands],
              colors="black", linewidth=3.4, capstyle="round", zorder=3)
    for i, vals in pts:
        ax.plot([i] * len(vals), vals, "o", ms=3.5, mfc="none", mec="black",
                mew=0.6, zorder=3)

    ax.plot(pos, red_hi, color="#ee2020", lw=1.0, zorder=4)
    ax.plot(pos, red_lo, color="#ee2020", lw=1.0, zorder=4)
    ax.axhline(0, color=zero_col, lw=1.0, zorder=5)

    ax.set_xlim(-0.26, len(TAU) + 1.26)
    ax.set_ylim(*ylim)
    ax.set_xticks([pos[i] for i in range(0, len(TAU), 3)])
    ax.set_xticklabels(TAU_SHOWN)
    ax.set_yticks(yticks)
    ax.set_yticklabels([tick_text(v) for v in yticks])
    ax.tick_params(direction="out", length=4.3, width=0.8, color="#333333",
                   labelsize=10.2, pad=1.5)
    for lbl in ax.get_yticklabels():
        lbl.set_rotation(90)
        lbl.set_va("center")
    for s in ax.spines.values():
        s.set_color("#333333")
        s.set_linewidth(0.9)
    ax.set_facecolor(BG)

    ax.set_ylabel(title, fontsize=17, va="center")
    ax.yaxis.set_label_coords(-41 / AX_W, 0.5)
    if bottom:
        ax.set_xlabel("Quantile τ", fontsize=15.5, va="baseline")
        ax.xaxis.set_label_coords(0.5, -40 / AX_H)


fig = plt.figure(figsize=(W / 100, H / 100), dpi=100, facecolor=BG)
for k, panel in enumerate(PANELS):
    r, c = divmod(k, 4)
    rect = [COL_X[c] / W, 1 - (ROW_Y[r] + AX_H) / H, AX_W / W, AX_H / H]
    ax = fig.add_axes(rect)
    draw_panel(ax, *panel, bottom=(r == 2))

fig.savefig("out.png", dpi=100, facecolor=BG)
